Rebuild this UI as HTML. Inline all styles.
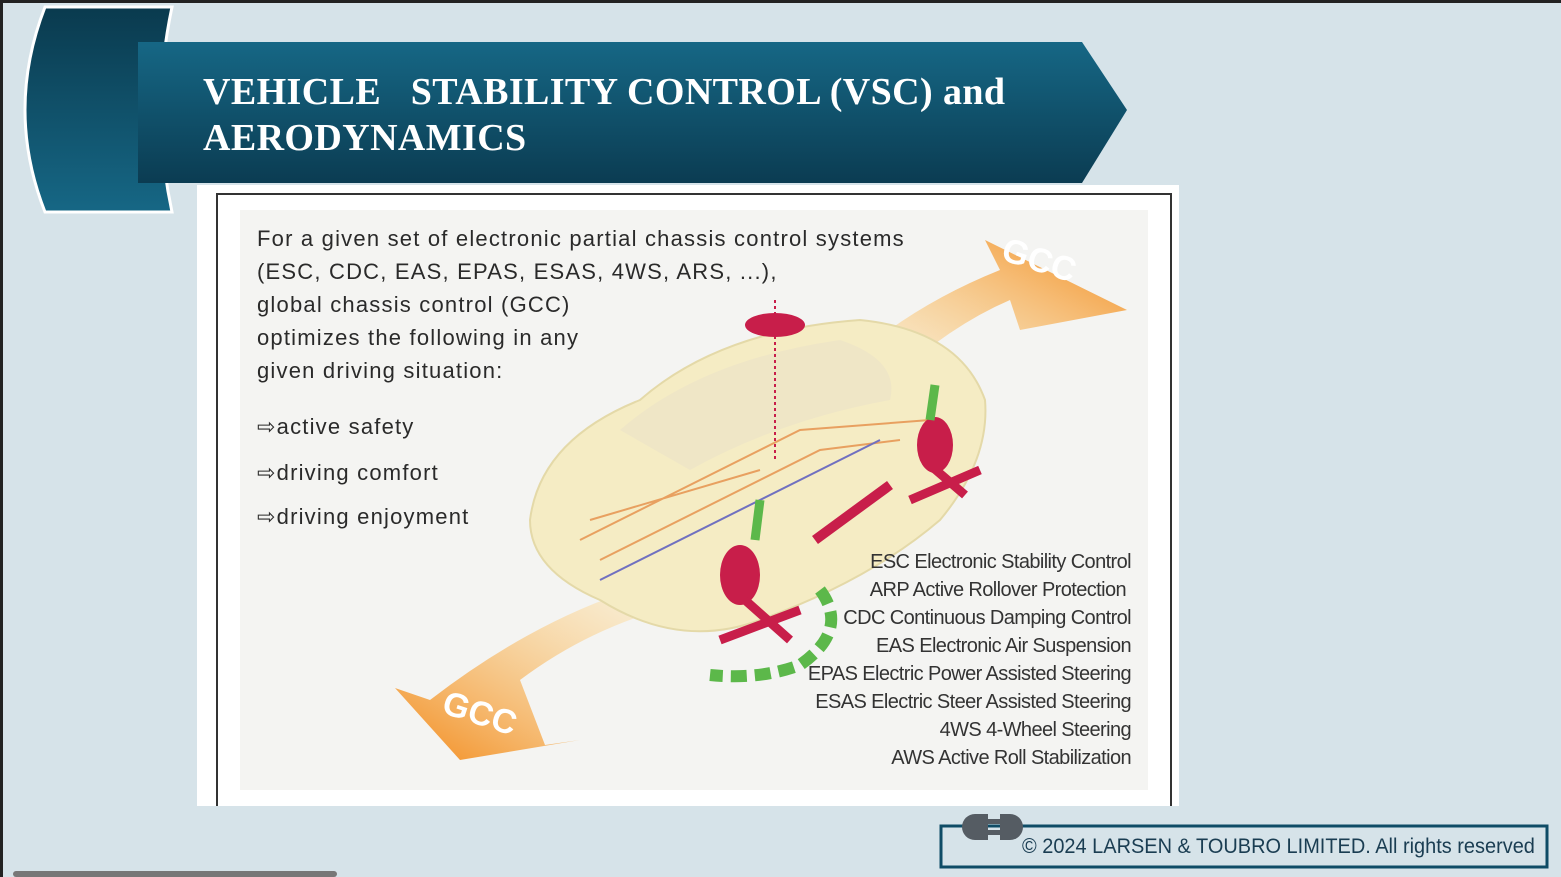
<!DOCTYPE html>
<html><head><meta charset="utf-8"><style>
body{margin:0;width:1561px;height:877px;overflow:hidden;background:#d6e3e9;position:relative;font-family:"Liberation Sans",sans-serif}
.abs{position:absolute}
.body{position:absolute;left:257px;color:#2a2a2a;font-size:22px;line-height:33px;letter-spacing:1.2px;white-space:nowrap}
.lab{position:absolute;right:430px;font-size:20px;color:#333;font-family:"Liberation Sans",sans-serif;letter-spacing:-0.6px;white-space:nowrap}
</style></head><body>
<div class="abs" style="left:0;top:0;width:1561px;height:3px;background:#222"></div>
<div class="abs" style="left:0;top:0;width:3px;height:877px;background:#222"></div>
<svg class="abs" style="left:0;top:0" width="1561" height="877">
<defs>
<linearGradient id="g1" x1="0" y1="0" x2="0" y2="1"><stop offset="0" stop-color="#166785"/><stop offset="1" stop-color="#0b3c52"/></linearGradient>
<linearGradient id="g2" x1="0" y1="0" x2="0" y2="1"><stop offset="0" stop-color="#0a3a4e"/><stop offset="1" stop-color="#166785"/></linearGradient>
<linearGradient id="or" x1="0" y1="1" x2="1" y2="0"><stop offset="0" stop-color="#fff3c0" stop-opacity="0.3"/><stop offset="1" stop-color="#f28a1c"/></linearGradient>
<linearGradient id="or2" x1="1" y1="0" x2="0" y2="1"><stop offset="0" stop-color="#fff3c0" stop-opacity="0.3"/><stop offset="1" stop-color="#f28a1c"/></linearGradient>
</defs>
<path d="M45 7 H172 Q150 110 172 212 H45 Q5 110 45 7Z" fill="url(#g2)" stroke="#fff" stroke-width="3"/>
<path d="M138 42 H1082 L1127 110 L1082 183 H138Z" fill="url(#g1)"/>
<rect x="197" y="185" width="982" height="621" fill="#fff"/>
<path d="M217 806 V194 H1171 V806" fill="#fff" stroke="#333" stroke-width="2"/>
<rect x="240" y="210" width="908" height="580" fill="#f4f4f2"/>
<path d="M830 380 Q900 310 1000 270 L985 240 L1127 310 L1020 330 L1010 300 Q940 330 870 400Z" fill="url(#or)"/>
<path d="M700 600 Q600 620 520 680 L545 745 L580 740 L460 760 L395 688 L430 700 Q560 600 690 575Z" fill="url(#or2)"/>
<path d="M530 520 Q540 440 640 400 Q720 330 860 320 Q960 330 985 400 Q990 460 940 520 Q870 580 760 620 Q680 650 600 600 Q530 570 530 520Z" fill="#f5ecc4" stroke="#e4d9a8" stroke-width="2"/>
<path d="M620 430 Q700 360 840 340 Q900 360 890 400 Q780 420 690 470Z" fill="#efe6c6"/>
<path d="M580 540 L800 430 L930 420 M600 560 L820 450 L900 440 M590 520 L760 470" stroke="#e8a060" stroke-width="2" fill="none"/>
<path d="M600 580 L880 440" stroke="#7070c0" stroke-width="2" fill="none"/>
<ellipse cx="740" cy="575" rx="20" ry="30" fill="#c81e4a"/>
<ellipse cx="935" cy="445" rx="18" ry="28" fill="#c81e4a"/>
<ellipse cx="775" cy="325" rx="30" ry="12" fill="#c81e4a"/>
<line x1="775" y1="300" x2="775" y2="460" stroke="#c81e4a" stroke-dasharray="3 3" stroke-width="2"/>
<path d="M815 540 L890 485" stroke="#c81e4a" stroke-width="10"/>
<path d="M910 500 L980 470 M930 465 L965 495" stroke="#c81e4a" stroke-width="9"/>
<path d="M720 640 L800 610 M745 600 L790 640" stroke="#c81e4a" stroke-width="9"/>
<path d="M820 590 Q850 630 800 665 Q760 680 710 675" stroke="#5cb84a" stroke-width="12" stroke-dasharray="16 8" fill="none"/>
<path d="M755 540 L760 500 M930 420 L935 385" stroke="#5cb84a" stroke-width="9"/>
<text x="1000" y="272" font-family="Liberation Sans" font-weight="bold" font-size="34" fill="#fff" transform="rotate(18 1040 265)">GCC</text>
<text x="440" y="725" font-family="Liberation Sans" font-weight="bold" font-size="34" fill="#fff" transform="rotate(18 480 720)">GCC</text>
<rect x="941" y="826" width="606" height="41" fill="none" stroke="#0f4c66" stroke-width="3"/>
<path d="M975 814 H988 V840 H975 A13 13 0 0 1 975 814Z" fill="#555c63"/>
<path d="M1000 814 H1010 A13 13 0 0 1 1010 840 H1000Z" fill="#555c63"/>
<rect x="988" y="819" width="12" height="5" fill="#555c63"/><rect x="988" y="830" width="12" height="5" fill="#555c63"/>
<rect x="13" y="871" width="324" height="6" rx="3" fill="#777"/>
</svg>
<div class="abs" style="left:203px;top:69px;color:#fff;font-family:'Liberation Serif',serif;font-weight:bold;font-size:38px;line-height:46px;white-space:pre;letter-spacing:0.4px">VEHICLE   STABILITY CONTROL (VSC) and
AERODYNAMICS</div>
<div class="body" style="top:222px">For a given set of electronic partial chassis control systems<br>(ESC, CDC, EAS, EPAS, ESAS, 4WS, ARS, ...),<br>global chassis control (GCC)<br>optimizes the following in any<br>given driving situation:</div>
<div class="body" style="top:410px">⇨active safety</div>
<div class="body" style="top:456px">⇨driving comfort</div>
<div class="body" style="top:500px">⇨driving enjoyment</div>
<div class="lab" style="top:551px">ESC Electronic Stability Control</div>
<div class="lab" style="top:579px;right:435px">ARP Active Rollover Protection</div>
<div class="lab" style="top:607px">CDC Continuous Damping Control</div>
<div class="lab" style="top:635px">EAS Electronic Air Suspension</div>
<div class="lab" style="top:663px">EPAS Electric Power Assisted Steering</div>
<div class="lab" style="top:691px">ESAS Electric Steer Assisted Steering</div>
<div class="lab" style="top:719px">4WS 4-Wheel Steering</div>
<div class="lab" style="top:747px">AWS Active Roll Stabilization</div>
<div class="abs" style="left:1022px;top:835px;font-size:21px;color:#1a3d52;white-space:nowrap;transform:scaleX(0.95);transform-origin:left top">© 2024 LARSEN &amp; TOUBRO LIMITED. All rights reserved</div>
</body></html>
